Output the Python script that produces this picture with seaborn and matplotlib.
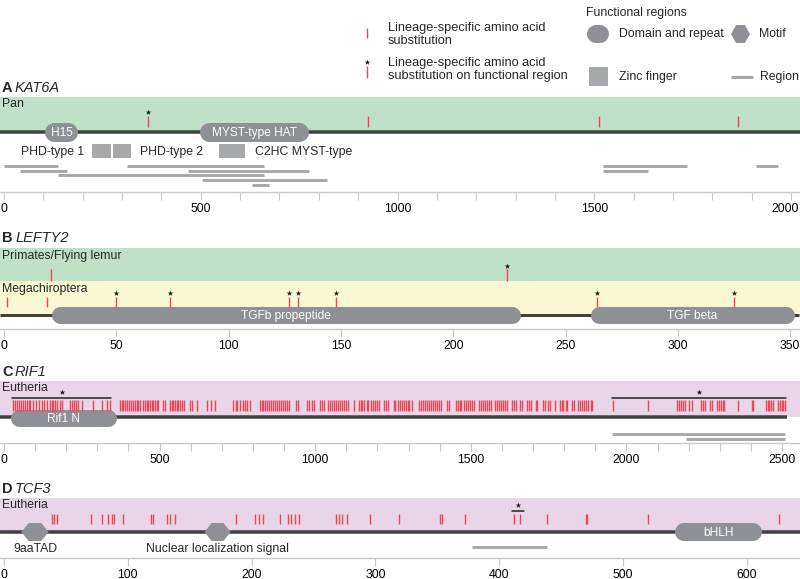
import matplotlib
matplotlib.use('Agg')
import matplotlib.pyplot as plt
import seaborn as sns
from matplotlib.patches import Polygon, Rectangle
from matplotlib.transforms import ScaledTranslation

sns.set_theme(style='white')
plt.rcParams['font.family'] = ['Liberation Sans', 'DejaVu Sans']

W, H = 800, 579

# ---------------- data (amino acid positions) ----------------
# A KAT6A
KAT6A_LEN = 2023
KAT6A_PAN = [366, 925, 1512, 1865]
KAT6A_PAN_STAR = [366]
KAT6A_DOMAIN_NAMES = ['H15', 'MYST-type HAT']
KAT6A_DOMAIN_START = [104, 498]
KAT6A_DOMAIN_END = [188, 773]
KAT6A_ZINC_START = [224, 277, 546]
KAT6A_ZINC_END = [272, 323, 612]
KAT6A_ZINC_NAMES = ['PHD-type 1', 'PHD-type 2', 'C2HC MYST-type']
KAT6A_ZINC_NAME_POS = [43, 346, 638]
KAT6A_REGION_START = [0, 313, 1522, 1911, 41, 468, 1522, 137, 503, 630]
KAT6A_REGION_END = [137, 661, 1736, 1967, 160, 775, 1637, 661, 821, 673]
KAT6A_REGION_ROW = [0, 0, 0, 0, 1, 1, 1, 2, 3, 4]

# B LEFTY2
LEFTY2_LEN = 354
LEFTY2_PRIMATES = [21, 224]
LEFTY2_PRIMATES_STAR = [224]
LEFTY2_MEGA = [1.3, 19, 50, 74, 127, 131, 148, 264, 325]
LEFTY2_MEGA_STAR = [50, 74, 127, 131, 148, 264, 325]
LEFTY2_DOMAIN_NAMES = ['TGFb propeptide', 'TGF beta']
LEFTY2_DOMAIN_START = [21, 261]
LEFTY2_DOMAIN_END = [230, 352]

# C RIF1
RIF1_LEN = 2515
RIF1_EUTHERIA = [
    28, 35, 43, 49, 55, 62, 69, 73, 79, 84, 94, 103, 111, 121, 129, 137, 148,
    153, 159, 165, 171, 180, 185, 212, 217, 225, 231, 237, 250, 287, 314, 332,
    341, 373, 379, 383, 390, 396, 403, 407, 413, 420, 426, 432, 437, 448, 454,
    458, 464, 469, 475, 480, 485, 491, 496, 512, 517, 533, 539, 544, 549, 555,
    560, 566, 571, 578, 598, 603, 619, 651, 665, 678, 737, 744, 750, 758, 767,
    774, 782, 790, 823, 828, 833, 839, 844, 852, 858, 863, 871, 877, 884, 890,
    898, 903, 909, 916, 938, 946, 975, 981, 989, 997, 1014, 1021, 1027, 1042,
    1047, 1053, 1060, 1066, 1072, 1079, 1085, 1091, 1098, 1104, 1126, 1141,
    1146, 1151, 1158, 1165, 1171, 1179, 1185, 1192, 1200, 1205, 1222, 1229,
    1235, 1252, 1258, 1265, 1271, 1278, 1284, 1291, 1297, 1303, 1310, 1333,
    1340, 1346, 1353, 1359, 1366, 1372, 1378, 1385, 1391, 1398, 1404, 1422,
    1429, 1451, 1458, 1464, 1470, 1477, 1483, 1490, 1496, 1503, 1509, 1526,
    1533, 1540, 1545, 1552, 1558, 1565, 1578, 1584, 1590, 1597, 1603, 1610,
    1616, 1631, 1638, 1644, 1659, 1665, 1680, 1687, 1693, 1708, 1714, 1733,
    1738, 1749, 1756, 1770, 1786, 1792, 1797, 1805, 1810, 1824, 1831, 1845,
    1851, 1856, 1864, 1870, 1877, 1885, 1891, 1958, 2070, 2164, 2170, 2177,
    2183, 2188, 2202, 2211, 2239, 2245, 2252, 2268, 2275, 2292, 2297, 2303,
    2309, 2315, 2359, 2402, 2408, 2448, 2454, 2459, 2466, 2472, 2486, 2493,
    2499, 2504, 2509]
RIF1_BRACKET_START = [26, 1954]
RIF1_BRACKET_END = [344, 2513]
RIF1_DOMAIN_NAMES = ['Rif1 N']
RIF1_DOMAIN_START = [22]
RIF1_DOMAIN_END = [360]
RIF1_REGION_START = [1954, 2191]
RIF1_REGION_END = [2509, 2509]

# D TCF3
TCF3_LEN = 643
TCF3_EUTHERIA = [39, 40, 43, 70, 79, 84, 87, 89, 96, 119, 120, 132, 134, 138,
                 187, 203, 206, 209, 223, 229, 232, 235, 238, 268, 271, 273,
                 277, 296, 319, 352, 354, 372, 412, 417, 439, 470, 471, 520, 626]
TCF3_BRACKET_START = [410]
TCF3_BRACKET_END = [420]
TCF3_MOTIF_NAMES = ['9aaTAD', 'Nuclear localization signal']
TCF3_MOTIF_START = [14, 162]
TCF3_MOTIF_END = [36, 183]
TCF3_DOMAIN_NAMES = ['bHLH']
TCF3_DOMAIN_START = [542]
TCF3_DOMAIN_END = [612]
TCF3_REGION_START = [378]
TCF3_REGION_END = [439]

# ---------------- style ----------------
GREEN = '#BEE1C8'
YELLOW = '#FAF8D3'
PURPLE = '#E8D6E8'
LINE = '#414143'
PILL = '#8E9095'
ZINC = '#A6A8AB'
RED = '#EC4656'
AXIS = '#C8C8C8'
FS = 8.8

fig = plt.figure(figsize=(W / 100, H / 100), dpi=100)


def panel_axes(top, bottom, s, major, minor=None):
    """axes spanning full width; x in residues (0 at 4 px), y in pixels"""
    ax = fig.add_axes([0, 1 - bottom / H, 1, (bottom - top) / H])
    ax.set_xlim(-4 / s, (W - 4) / s)
    ax.set_ylim(bottom, top)
    ax.patch.set_visible(False)
    sns.despine(ax=ax, left=True)
    ax.spines['bottom'].set_color(AXIS)
    ax.spines['bottom'].set_linewidth(1)
    ax.set_yticks([])
    ax.set_xticks(major)
    if minor is not None:
        ax.set_xticks(minor, minor=True)
    ax.tick_params(axis='x', which='both', direction='out', length=5.8,
                   width=0.8, color=AXIS, labelsize=8.8, pad=1.8,
                   labelcolor='black', bottom=True)
    return ax


def title(ax, y, letter, gene):
    t = ax.get_yaxis_transform()
    ax.text(2 / W, y, letter, transform=t, fontsize=10.5, fontweight='bold',
            va='center', ha='left')
    ax.text((15 if letter != 'B' else 16) / W, y, gene, transform=t,
            fontsize=10.5, fontstyle='italic', va='center', ha='left')


def band_label(ax, y, text):
    ax.text(2 / W, y, text, transform=ax.get_yaxis_transform(), fontsize=FS,
            va='center', ha='left')


def pill(ax, x0, x1, yc, h, s, label=None, color=PILL):
    r = h / 2 / s
    ax.plot([x0 + r, x1 - r], [yc, yc], lw=h * 0.72, color=color,
            solid_capstyle='round', zorder=4)
    if label:
        ax.text((x0 + x1) / 2, yc + 0.5, label, color='white', fontsize=8.6,
                ha='center', va='center', zorder=5)


def hexagon(ax, x0, x1, yc, h, color=PILL):
    w = x1 - x0
    pts = [(x0, yc), (x0 + 0.27 * w, yc - h / 2), (x1 - 0.27 * w, yc - h / 2),
           (x1, yc), (x1 - 0.27 * w, yc + h / 2), (x0 + 0.27 * w, yc + h / 2)]
    ax.add_patch(Polygon(pts, closed=True, facecolor=color, edgecolor='none',
                         zorder=4))


def sites(ax, xs, y0, y1, stars=(), star_y=None):
    ax.vlines(xs, y0, y1, color=RED, lw=1.0, zorder=5)
    if len(stars):
        ax.scatter(stars, [star_y] * len(stars), marker='*', s=18, color='k',
                   linewidths=0, zorder=6)


def protein(ax, length, yc, lw=3.5):
    ax.plot([ax.get_xlim()[0], length], [yc, yc], color=LINE, lw=lw * 0.72,
            solid_capstyle='butt', zorder=3)


def regions(ax, starts, ends, ys):
    for a, b, y in zip(starts, ends, ys):
        ax.plot([a, b], [y, y], color=ZINC, lw=2.1, solid_capstyle='butt',
                zorder=3)


# ---------------- A KAT6A ----------------
sA = 0.3935
axA = panel_axes(97, 192, sA, range(0, 2001, 500), range(0, 2001, 100))
title(axA, 88, 'A', 'KAT6A')
axA.axhspan(97, 131.5, color=GREEN, lw=0, zorder=1)
band_label(axA, 104, 'Pan')
protein(axA, KAT6A_LEN, 131.5)
sites(axA, KAT6A_PAN, 116, 127, KAT6A_PAN_STAR, 112)
for n, a, b in zip(KAT6A_DOMAIN_NAMES, KAT6A_DOMAIN_START, KAT6A_DOMAIN_END):
    pill(axA, a, b, 132, 19, sA, n)
for a, b in zip(KAT6A_ZINC_START, KAT6A_ZINC_END):
    axA.add_patch(Rectangle((a, 144), b - a, 14, facecolor=ZINC,
                            edgecolor='none', zorder=4))
for n, x in zip(KAT6A_ZINC_NAMES, KAT6A_ZINC_NAME_POS):
    axA.text(x, 151.5, n, fontsize=FS, ha='left', va='center')
row_y = [166, 170.5, 175, 179.5, 184.5]
regions(axA, KAT6A_REGION_START, KAT6A_REGION_END,
        [row_y[r] for r in KAT6A_REGION_ROW])
# keep the last tick label inside the figure
last = axA.get_xticklabels()[-1]
last.set_transform(last.get_transform()
                   + ScaledTranslation(-6 / 100, 0, fig.dpi_scale_trans))

# ---------------- B LEFTY2 ----------------
sB = 2.246
axB = panel_axes(248, 329, sB, range(0, 351, 50))
title(axB, 238, 'B', 'LEFTY2')
axB.axhspan(248, 281, color=GREEN, lw=0, zorder=1)
axB.axhspan(281, 315.5, color=YELLOW, lw=0, zorder=1)
band_label(axB, 256, 'Primates/Flying lemur')
band_label(axB, 289, 'Megachiroptera')
protein(axB, LEFTY2_LEN, 315.5, 3)
sites(axB, LEFTY2_PRIMATES, 269.5, 281, LEFTY2_PRIMATES_STAR, 266)
sites(axB, LEFTY2_MEGA, 297, 307, LEFTY2_MEGA_STAR, 293)
for n, a, b in zip(LEFTY2_DOMAIN_NAMES, LEFTY2_DOMAIN_START, LEFTY2_DOMAIN_END):
    pill(axB, a, b, 315.5, 17, sB, n)

# ---------------- C RIF1 ----------------
sC = 0.3112
axC = panel_axes(381, 443, sC, range(0, 2501, 500), range(0, 2501, 100))
title(axC, 372, 'C', 'RIF1')
axC.axhspan(381, 417, color=PURPLE, lw=0, zorder=1)
band_label(axC, 388, 'Eutheria')
protein(axC, RIF1_LEN, 417)
sites(axC, RIF1_EUTHERIA, 399.5, 411)
for a, b in zip(RIF1_BRACKET_START, RIF1_BRACKET_END):
    axC.plot([a, b], [397.5, 397.5], color='#222222', lw=1.1, zorder=5)
axC.scatter([(a + b) / 2 for a, b in zip(RIF1_BRACKET_START, RIF1_BRACKET_END)],
            [392] * 2, marker='*', s=18, color='k', linewidths=0, zorder=6)
for n, a, b in zip(RIF1_DOMAIN_NAMES, RIF1_DOMAIN_START, RIF1_DOMAIN_END):
    pill(axC, a, b, 418, 17, sC, n)
regions(axC, RIF1_REGION_START, RIF1_REGION_END, [434, 438.5])

# ---------------- D TCF3 ----------------
sD = 1.238
axD = panel_axes(498, 558, sD, range(0, 601, 100))
title(axD, 489, 'D', 'TCF3')
axD.axhspan(498, 532, color=PURPLE, lw=0, zorder=1)
band_label(axD, 505, 'Eutheria')
protein(axD, TCF3_LEN, 532)
sites(axD, TCF3_EUTHERIA, 513.5, 524)
for a, b in zip(TCF3_BRACKET_START, TCF3_BRACKET_END):
    axD.plot([a, b], [511, 511], color='#222222', lw=1.1, zorder=5)
axD.scatter([(a + b) / 2 for a, b in zip(TCF3_BRACKET_START, TCF3_BRACKET_END)],
            [505], marker='*', s=18, color='k', linewidths=0, zorder=6)
for n, a, b in zip(TCF3_MOTIF_NAMES, TCF3_MOTIF_START, TCF3_MOTIF_END):
    hexagon(axD, a, b, 532, 18)
    axD.text((a + b) / 2, 549, n, fontsize=FS, ha='center', va='center')
for n, a, b in zip(TCF3_DOMAIN_NAMES, TCF3_DOMAIN_START, TCF3_DOMAIN_END):
    pill(axD, a, b, 532, 18, sD, n)
regions(axD, TCF3_REGION_START, TCF3_REGION_END, [547])

# ---------------- legend (pixel coordinates) ----------------
lg = fig.add_axes([0, 0, 1, 1])
lg.set_xlim(0, W)
lg.set_ylim(H, 0)
lg.axis('off')
lg.patch.set_visible(False)
lg.vlines([367], 28, 38, color=RED, lw=1.0)
lg.text(388, 34.5, 'Lineage-specific amino acid\nsubstitution', fontsize=9.2,
        va='center', ha='left', linespacing=1.12)
lg.vlines([367], 66, 78, color=RED, lw=1.0)
lg.scatter([367], [62], marker='*', s=18, color='k', linewidths=0)
lg.text(388, 69.5, 'Lineage-specific amino acid\nsubstitution on functional region',
        fontsize=9.2, va='center', ha='left', linespacing=1.12)
lg.text(586, 13, 'Functional regions', fontsize=8.8, va='center', ha='left')
pill(lg, 587, 609, 34, 18, 1)
lg.text(619, 34, 'Domain and repeat', fontsize=FS, va='center', ha='left')
hexagon(lg, 731, 750, 34, 18)
lg.text(759, 34, 'Motif', fontsize=FS, va='center', ha='left')
lg.add_patch(Rectangle((589, 67), 19, 19, facecolor=ZINC, edgecolor='none'))
lg.text(619, 77, 'Zinc finger', fontsize=FS, va='center', ha='left')
lg.plot([731, 753], [77, 77], color=ZINC, lw=2.2, solid_capstyle='butt')
lg.text(760, 77, 'Region', fontsize=FS, va='center', ha='left')

fig.savefig('out.png', dpi=100)
